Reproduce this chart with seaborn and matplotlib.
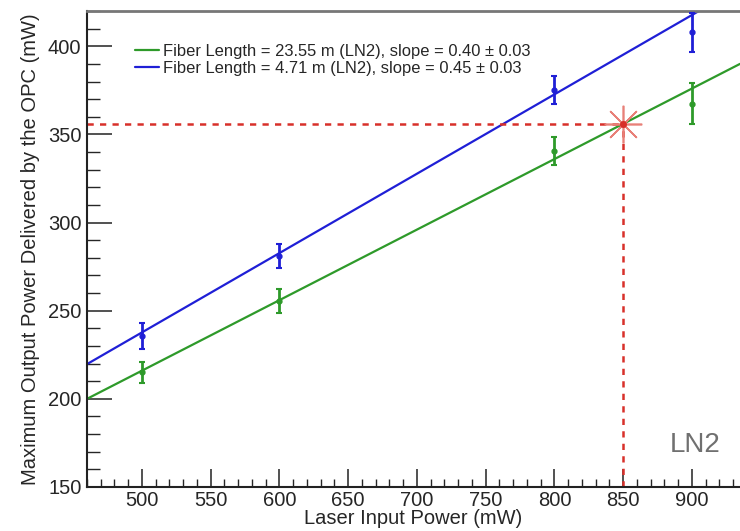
import numpy as np
import pandas as pd
import matplotlib
matplotlib.use("Agg")
import matplotlib.pyplot as plt
import seaborn as sns

# ---- data ----
power = [500, 600, 800, 900]
green_out = [215.0, 255.5, 340.5, 367.5]
green_err = [6.0, 7.0, 8.0, 11.5]
blue_out = [235.5, 281.0, 375.0, 408.0]
blue_err = [7.5, 7.0, 8.0, 11.0]
fit_x = [460, 935]
green_slope, green_icpt = 0.40, 16.0
blue_slope, blue_icpt = 0.45, 12.7
op_x, op_y = 850, 356
green_label = "Fiber Length = 23.55 m (LN2), slope = 0.40 \u00b1 0.03"
blue_label = "Fiber Length = 4.71 m (LN2), slope = 0.45 \u00b1 0.03"

sns.set_style("ticks")
plt.rcParams['font.family'] = ['Liberation Sans', 'DejaVu Sans']

GREEN = "#2e9a2a"
BLUE = "#1f1fd6"
RED = "#d8302a"

fig = plt.figure(figsize=(7.4, 5.31), dpi=100)
ax = fig.add_axes([87/740, 1-487/531, 1-87/740, (487-11)/531])

fx = np.array(fit_x, dtype=float)
lines = pd.DataFrame({
    "x": np.concatenate([fx, fx]),
    "y": np.concatenate([green_icpt + green_slope*fx, blue_icpt + blue_slope*fx]),
    "series": [green_label]*2 + [blue_label]*2,
})
sns.lineplot(data=lines, x="x", y="y", hue="series",
             palette={green_label: GREEN, blue_label: BLUE},
             linewidth=1.6, ax=ax, legend=True)

ax.errorbar(power, green_out, yerr=green_err, fmt='o', ms=3.5, color=GREEN,
            ecolor=GREEN, elinewidth=2, capsize=2.5, capthick=1.5, zorder=3)
ax.errorbar(power, blue_out, yerr=blue_err, fmt='o', ms=3.5, color=BLUE,
            ecolor=BLUE, elinewidth=2, capsize=2.5, capthick=1.5, zorder=3)

# operating point guides
ax.plot([fit_x[0], op_x], [op_y, op_y], ls=(0, (2.5, 2.5)), color=RED, lw=1.8, zorder=2)
ax.plot([op_x, op_x], [150, op_y], ls=(0, (2.5, 2.5)), color=RED, lw=1.8, zorder=2)
ax.plot([op_x], [op_y], marker=(8, 2, 0), ms=27, color="#e88078", mew=1.2, zorder=4)
ax.plot([op_x], [op_y], 'o', ms=4, color=RED, zorder=5)

ax.text(0.892, 0.073, "LN2", transform=ax.transAxes, fontsize=20, color="#707070")

ax.set_xlim(460, 935)
ax.set_ylim(150, 420)
ax.set_xticks([500, 550, 600, 650, 700, 750, 800, 850, 900])
ax.set_yticks([150, 200, 250, 300, 350, 400])
ax.set_xticks(np.arange(460, 936, 10), minor=True)
ax.set_yticks(np.arange(150, 421, 10), minor=True)
ax.tick_params(axis='both', which='major', direction='in', labelsize=14.5, width=1.2, color="#333333")
ax.tick_params(axis='x', which='major', length=13, pad=3)
ax.tick_params(axis='y', which='major', length=18, pad=4)
ax.tick_params(axis='x', which='minor', direction='in', length=6, width=1)
ax.tick_params(axis='y', which='minor', direction='in', length=9, width=1)

ax.set_xlabel("Laser Input Power (mW)", fontsize=14.5, labelpad=-1)
ax.set_ylabel("Maximum Output Power Delivered by the OPC (mW)", fontsize=14.5, labelpad=6)

for s in ['left', 'bottom']:
    ax.spines[s].set_linewidth(1.5)
    ax.spines[s].set_color("#222222")
ax.spines['top'].set_linewidth(2)
ax.spines['top'].set_color("#777777")
ax.spines['right'].set_visible(False)

leg = ax.legend(loc='upper left', bbox_to_anchor=(0.05, 0.962), frameon=False,
                fontsize=11.9, handlelength=1.5, handletextpad=0.2, labelspacing=0.13,
                title=None)

fig.savefig("out.png", dpi=100)
